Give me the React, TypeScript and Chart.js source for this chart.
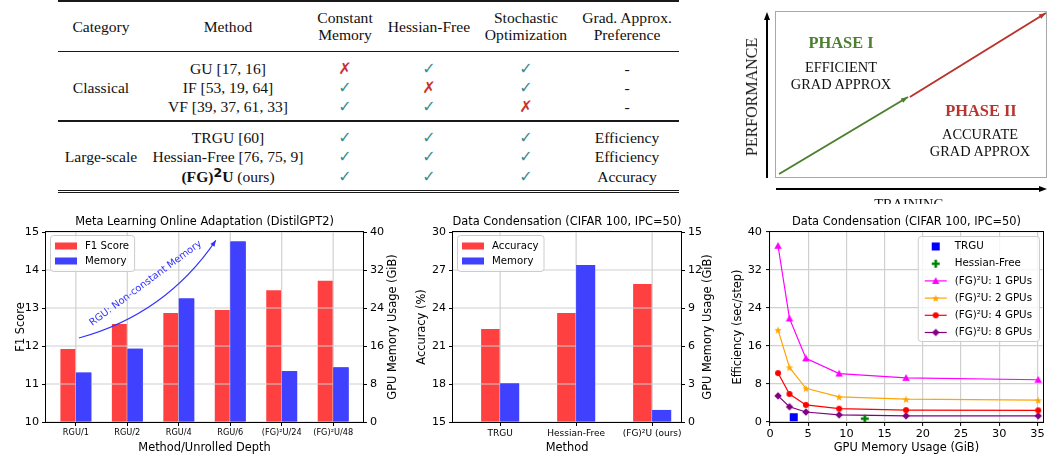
import React, { useEffect, useRef } from "react";
import { Chart, registerables } from "chart.js";
Chart.register(...registerables);

const SANS = "'DejaVu Sans', 'Liberation Sans', sans-serif";
const SERIF = "'Liberation Serif', 'DejaVu Serif', serif";
const RED = "rgb(255,64,64)";
const BLUE = "rgb(64,64,255)";
const GRID = "#d0d0d0";

// ---------------- Chart 1: Meta learning ----------------
const metaCategories = ["RGU/1", "RGU/2", "RGU/4", "RGU/6", "(FG)²U/24", "(FG)²U/48"];
const metaF1 = [11.92, 12.58, 12.87, 12.95, 13.47, 13.72];
const metaMemory = [10.4, 15.4, 26.0, 38.0, 10.7, 11.5];
const metaF1Ticks = [10, 11, 12, 13, 14, 15];
const metaMemTicks = [0, 8, 16, 24, 32, 40];

// ---------------- Chart 2: Data condensation bars ----------------
const dcCategories = ["TRGU", "Hessian-Free", "(FG)²U (ours)"];
const dcAccuracy = [22.34, 23.6, 25.9];
const dcMemory = [3.05, 12.4, 0.95];
const dcAccTicks = [15, 18, 21, 24, 27, 30];
const dcMemTicks = [0, 3, 6, 9, 12, 15];

// ---------------- Chart 3: Efficiency vs memory ----------------
const effMemory = [1.05, 2.55, 4.7, 9.05, 17.8, 35.1];
const eff1GPU = [37.1, 21.8, 13.4, 10.2, 9.3, 8.9];
const eff2GPU = [19.4, 11.5, 7.1, 5.3, 4.8, 4.6];
const eff4GPU = [10.3, 5.9, 3.6, 2.8, 2.5, 2.45];
const eff8GPU = [5.5, 3.2, 2.1, 1.5, 1.3, 1.3];
const trguMemory = [3.1];
const trguEff = [1.0];
const hfMemory = [12.4];
const hfEff = [0.7];
const effXTicks = [0, 5, 10, 15, 20, 25, 30, 35];
const effYTicks = [0, 8, 16, 24, 32, 40];

// ---------------- Phase diagram ----------------
const phaseGreenX = [0.015, 0.489];
const phaseGreenY = [0.024, 0.485];
const phaseRedX = [0.496, 0.996];
const phaseRedY = [0.485, 0.988];

// ---------------- Table ----------------
const tableColX = [101, 228, 345, 429, 526, 627];
const tableHeaders = [["Category"], ["Method"], ["Constant", "Memory"], ["Hessian-Free"], ["Stochastic", "Optimization"], ["Grad. Approx.", "Preference"]];
const classicalMethods = ["GU [17, 16]", "IF [53, 19, 64]", "VF [39, 37, 61, 33]"];
const classicalMarks = [[false, true, true], [true, false, true], [true, true, false]];
const classicalPref = ["-", "-", "-"];
const largeMethods = ["TRGU [60]", "Hessian-Free [76, 75, 9]", "FG2U"];
const largeMarks = [[true, true, true], [true, true, true], [true, true, true]];
const largePref = ["Efficiency", "Efficiency", "Accuracy"];
const classicalRowY = [69, 88, 107];
const largeRowY = [138, 157, 177];

// ---------------- helpers ----------------
function drawText(ctx: CanvasRenderingContext2D, s: string, x: number, y: number, f: string, color = "#000", rot = 0, align: CanvasTextAlign = "center") {
  ctx.save();
  ctx.translate(x, y);
  ctx.rotate(rot);
  ctx.font = f;
  ctx.fillStyle = color;
  ctx.textAlign = align;
  ctx.textBaseline = "middle";
  ctx.fillText(s, 0, 0);
  ctx.restore();
}

function roundRectPath(ctx: CanvasRenderingContext2D, x: number, y: number, w: number, h: number, r: number) {
  ctx.beginPath();
  ctx.moveTo(x + r, y);
  ctx.lineTo(x + w - r, y);
  ctx.quadraticCurveTo(x + w, y, x + w, y + r);
  ctx.lineTo(x + w, y + h - r);
  ctx.quadraticCurveTo(x + w, y + h, x + w - r, y + h);
  ctx.lineTo(x + r, y + h);
  ctx.quadraticCurveTo(x, y + h, x, y + h - r);
  ctx.lineTo(x, y + r);
  ctx.quadraticCurveTo(x, y, x + r, y);
  ctx.closePath();
}

function legendBox(ctx: CanvasRenderingContext2D, x: number, y: number, w: number, h: number) {
  ctx.save();
  roundRectPath(ctx, x + 0.5, y + 0.5, w, h, 3);
  ctx.fillStyle = "rgba(255,255,255,0.8)";
  ctx.fill();
  ctx.strokeStyle = "#cccccc";
  ctx.lineWidth = 1;
  ctx.stroke();
  ctx.restore();
}

function arrowHead(ctx: CanvasRenderingContext2D, x: number, y: number, ang: number, len: number, wid: number, color: string) {
  ctx.save();
  ctx.translate(x, y);
  ctx.rotate(ang);
  ctx.beginPath();
  ctx.moveTo(0, 0);
  ctx.lineTo(-len, wid / 2);
  ctx.lineTo(-len, -wid / 2);
  ctx.closePath();
  ctx.fillStyle = color;
  ctx.fill();
  ctx.restore();
}

function makeMarker(shape: string, color: string, size: number): HTMLCanvasElement {
  const c = document.createElement("canvas");
  const S = Math.ceil(size) + 4;
  c.width = S;
  c.height = S;
  const ctx = c.getContext("2d")!;
  const cx = S / 2, cy = S / 2, r = size / 2;
  ctx.fillStyle = color;
  ctx.beginPath();
  if (shape === "square") {
    ctx.rect(cx - r, cy - r, size, size);
  } else if (shape === "circle") {
    ctx.arc(cx, cy, r, 0, Math.PI * 2);
  } else if (shape === "triangle") {
    ctx.moveTo(cx, cy - r);
    ctx.lineTo(cx + r, cy + r * 0.8);
    ctx.lineTo(cx - r, cy + r * 0.8);
    ctx.closePath();
  } else if (shape === "diamond") {
    ctx.moveTo(cx, cy - r);
    ctx.lineTo(cx + r, cy);
    ctx.lineTo(cx, cy + r);
    ctx.lineTo(cx - r, cy);
    ctx.closePath();
  } else if (shape === "star") {
    for (let i = 0; i < 10; i++) {
      const rr = i % 2 === 0 ? r : r * 0.42;
      const a = -Math.PI / 2 + (i * Math.PI) / 5;
      const px = cx + rr * Math.cos(a), py = cy + 0.5 + rr * Math.sin(a);
      if (i === 0) ctx.moveTo(px, py); else ctx.lineTo(px, py);
    }
    ctx.closePath();
  } else if (shape === "plus") {
    const t = size / 3;
    ctx.rect(cx - r, cy - t / 2, size, t);
    ctx.rect(cx - t / 2, cy - r, t, size);
  }
  ctx.fill();
  return c;
}

const framePlugin = {
  id: "frame",
  afterDraw(chart: any) {
    const { ctx, chartArea: a } = chart;
    ctx.save();
    ctx.strokeStyle = "#000";
    ctx.lineWidth = 1;
    const l = Math.round(a.left) - 0.5, t = Math.round(a.top) - 0.5;
    const r = Math.round(a.right) + 0.5, b = Math.round(a.bottom) + 0.5;
    ctx.strokeRect(l, t, r - l, b - t);
    ctx.restore();
  },
};

function titlesPlugin(c: { title: string; xTitle: string; yTitle: string; y1Title?: string; yOff: number; y1Off?: number }) {
  return {
    id: "titles",
    afterDraw(chart: any) {
      const { ctx, chartArea: a } = chart;
      const f = `11.4px ${SANS}`;
      const cx = (a.left + a.right) / 2, cy = (a.top + a.bottom) / 2;
      drawText(ctx, c.title, cx, a.top - 10, f);
      drawText(ctx, c.xTitle, cx, a.bottom + 26, f);
      drawText(ctx, c.yTitle, a.left - c.yOff, cy, f, "#000", -Math.PI / 2);
      if (c.y1Title) drawText(ctx, c.y1Title, a.right + (c.y1Off || 0), cy, f, "#000", -Math.PI / 2);
    },
  };
}

function barLegendPlugin(items: { label: string; color: string }[]) {
  return {
    id: "barLegend",
    afterDraw(chart: any) {
      const { ctx, chartArea: a } = chart;
      const f = `10.2px ${SANS}`;
      ctx.save();
      ctx.font = f;
      const tw = Math.max(...items.map((it) => ctx.measureText(it.label).width));
      ctx.restore();
      const x = Math.round(a.left) + 4, y = Math.round(a.top) + 3;
      const w = 35 + tw + 5, h = 36;
      legendBox(ctx, x, y, w, h);
      items.forEach((it, i) => {
        const ry = y + 11 + i * 15;
        ctx.fillStyle = it.color;
        ctx.fillRect(x + 5, ry - 3.5, 22, 7);
        drawText(ctx, it.label, x + 35, ry, f, "#000", 0, "left");
      });
    },
  };
}

function barGridPlugin(frontIndex: number) {
  return {
    id: "barGrid",
    afterDatasetsDraw(chart: any) {
      const { ctx, chartArea: a, scales } = chart;
      ctx.save();
      ctx.strokeStyle = GRID;
      ctx.lineWidth = 1.2;
      scales.x.ticks.forEach((t: any) => {
        const px = scales.x.getPixelForValue(t.value);
        ctx.beginPath();
        ctx.moveTo(px, a.top);
        ctx.lineTo(px, a.bottom);
        ctx.stroke();
      });
      scales.y.ticks.forEach((t: any) => {
        const py = Math.round(scales.y.getPixelForValue(t.value));
        ctx.beginPath();
        ctx.moveTo(a.left, py);
        ctx.lineTo(a.right, py);
        ctx.stroke();
      });
      ctx.restore();
      chart.getDatasetMeta(frontIndex).data.forEach((el: any) => el.draw(ctx));
    },
  };
}

const metaArrowStart = [0.06, 12.21];
const metaArrowCtrl = [1.75, 12.84];
const metaArrowEnd = [2.72, 14.78];
const metaArrowLabel = "RGU: Non-constant Memory";
const metaArrowLabelAt = [1.356, 13.65];

const metaAnnotationPlugin = {
  id: "metaAnnot",
  afterDraw(chart: any) {
    const { ctx, scales } = chart;
    const X = (v: number) => scales.x.getPixelForValue(v);
    const Y = (v: number) => scales.y.getPixelForValue(v);
    const sx = X(metaArrowStart[0]), sy = Y(metaArrowStart[1]);
    const cx = X(metaArrowCtrl[0]), cy = Y(metaArrowCtrl[1]);
    const ex = X(metaArrowEnd[0]), ey = Y(metaArrowEnd[1]);
    const color = "rgb(50,50,255)";
    ctx.save();
    ctx.strokeStyle = color;
    ctx.lineWidth = 1.1;
    ctx.beginPath();
    ctx.moveTo(sx, sy);
    ctx.quadraticCurveTo(cx, cy, ex, ey);
    ctx.stroke();
    ctx.restore();
    arrowHead(ctx, ex, ey, Math.atan2(ey - cy, ex - cx), 6, 5, color);
    drawText(ctx, metaArrowLabel, X(metaArrowLabelAt[0]), Y(metaArrowLabelAt[1]), `9.8px ${SANS}`, color, (-36.5 * Math.PI) / 180);
  },
};

function barScales(o: {
  cats: string[]; xMin: number; xMax: number; yMin: number; yMax: number; y1Min: number; y1Max: number;
  yTicks: number[]; y1Ticks: number[]; yW: number; y1W: number; xTickSize: number; yTickSize: number;
}) {
  const tickGrid = { drawOnChartArea: false, offset: false, tickLength: 4, tickColor: "#000", tickWidth: 1 };
  return {
    x: {
      type: "linear", min: o.xMin, max: o.xMax, offset: false,
      afterBuildTicks: (s: any) => { s.ticks = o.cats.map((_, i) => ({ value: i })); },
      afterFit: (s: any) => { s.height = 37; },
      grid: tickGrid, border: { display: false },
      ticks: { font: { family: SANS, size: o.xTickSize }, color: "#000", padding: 2, maxRotation: 0, autoSkip: false, callback: (_v: any, i: number) => o.cats[i] },
    },
    y: {
      type: "linear", position: "left", min: o.yMin, max: o.yMax,
      afterBuildTicks: (s: any) => { s.ticks = o.yTicks.map((v) => ({ value: v })); },
      afterFit: (s: any) => { s.width = o.yW; },
      grid: tickGrid, border: { display: false },
      ticks: { font: { family: SANS, size: o.yTickSize }, color: "#000", padding: 3, callback: (v: any) => String(v) },
    },
    y1: {
      type: "linear", position: "right", min: o.y1Min, max: o.y1Max,
      afterBuildTicks: (s: any) => { s.ticks = o.y1Ticks.map((v) => ({ value: v })); },
      afterFit: (s: any) => { s.width = o.y1W; },
      grid: tickGrid, border: { display: false },
      ticks: { font: { family: SANS, size: o.yTickSize }, color: "#000", padding: 3, callback: (v: any) => String(v) },
    },
  };
}

const commonOpts = {
  responsive: false,
  maintainAspectRatio: false,
  animation: false,
  events: [],
};

function metaConfig(): any {
  return {
    type: "bar",
    data: {
      datasets: [
        { label: "F1 Score", data: metaF1.map((y, i) => ({ x: i, y })), backgroundColor: RED, yAxisID: "y", categoryPercentage: 0.6, barPercentage: 1, borderWidth: 0 },
        { label: "Memory", data: metaMemory.map((y, i) => ({ x: i, y })), backgroundColor: BLUE, yAxisID: "y1", categoryPercentage: 0.6, barPercentage: 1, borderWidth: 0 },
      ],
    },
    options: {
      ...commonOpts,
      layout: { padding: { top: 27, left: 0, right: 0, bottom: 0 } },
      plugins: { legend: { display: false }, tooltip: { enabled: false }, title: { display: false } },
      scales: barScales({ cats: metaCategories, xMin: -0.58, xMax: 5.58, yMin: 10, yMax: 15, y1Min: 0, y1Max: 40, yTicks: metaF1Ticks, y1Ticks: metaMemTicks, yW: 46, y1W: 37, xTickSize: 8.2, yTickSize: 11.2 }),
    },
    plugins: [
      barGridPlugin(1),
      metaAnnotationPlugin,
      framePlugin,
      titlesPlugin({ title: "Meta Learning Online Adaptation (DistilGPT2)", xTitle: "Method/Unrolled Depth", yTitle: "F1 Score", y1Title: "GPU Memory Usage (GiB)", yOff: 25, y1Off: 30 }),
      barLegendPlugin([{ label: "F1 Score", color: RED }, { label: "Memory", color: BLUE }]),
    ],
  };
}

function dcConfig(): any {
  return {
    type: "bar",
    data: {
      datasets: [
        { label: "Accuracy", data: dcAccuracy.map((y, i) => ({ x: i, y })), backgroundColor: RED, yAxisID: "y", categoryPercentage: 0.5, barPercentage: 1, borderWidth: 0 },
        { label: "Memory", data: dcMemory.map((y, i) => ({ x: i, y })), backgroundColor: BLUE, yAxisID: "y1", categoryPercentage: 0.5, barPercentage: 1, borderWidth: 0 },
      ],
    },
    options: {
      ...commonOpts,
      layout: { padding: { top: 27, left: 0, right: 0, bottom: 0 } },
      plugins: { legend: { display: false }, tooltip: { enabled: false }, title: { display: false } },
      scales: barScales({ cats: dcCategories, xMin: -0.62, xMax: 2.38, yMin: 15, yMax: 30, y1Min: 0, y1Max: 15, yTicks: dcAccTicks, y1Ticks: dcMemTicks, yW: 53, y1W: 39, xTickSize: 9, yTickSize: 11 }),
    },
    plugins: [
      barGridPlugin(1),
      framePlugin,
      titlesPlugin({ title: "Data Condensation (CIFAR 100, IPC=50)", xTitle: "Method", yTitle: "Accuracy (%)", y1Title: "GPU Memory Usage (GiB)", yOff: 31, y1Off: 27 }),
      barLegendPlugin([{ label: "Accuracy", color: RED }, { label: "Memory", color: BLUE }]),
    ],
  };
}

function effConfig(): any {
  const mTRGU = makeMarker("square", "#0000ff", 8);
  const mHF = makeMarker("plus", "#008000", 8);
  const m1 = makeMarker("triangle", "#ff00ff", 7.5);
  const m2 = makeMarker("star", "#ffa500", 8);
  const m4 = makeMarker("circle", "#ff0000", 6);
  const m8 = makeMarker("diamond", "#800080", 7.5);
  const series = [
    { label: "(FG)²U: 1 GPUs", ys: eff1GPU, color: "#ff00ff", marker: m1 },
    { label: "(FG)²U: 2 GPUs", ys: eff2GPU, color: "#ffa500", marker: m2 },
    { label: "(FG)²U: 4 GPUs", ys: eff4GPU, color: "#ff0000", marker: m4 },
    { label: "(FG)²U: 8 GPUs", ys: eff8GPU, color: "#800080", marker: m8 },
  ];
  const legendItems = [
    { label: "TRGU", marker: mTRGU, line: "" },
    { label: "Hessian-Free", marker: mHF, line: "" },
    ...series.map((s) => ({ label: s.label, marker: s.marker, line: s.color })),
  ];
  const legendPlugin = {
    id: "effLegend",
    afterDraw(chart: any) {
      const { ctx, chartArea: a } = chart;
      const f = `10.3px ${SANS}`;
      ctx.save();
      ctx.font = f;
      const tw = Math.max(...legendItems.map((it) => ctx.measureText(it.label).width));
      ctx.restore();
      const w = 37 + tw + 7, h = 105;
      const x = Math.round(a.right) - 4 - w, y = Math.round(a.top) + 4;
      legendBox(ctx, x, y, w, h);
      legendItems.forEach((it, i) => {
        const ry = y + 10.5 + i * 17.2;
        if (it.line) {
          ctx.save();
          ctx.strokeStyle = it.line;
          ctx.lineWidth = 1.2;
          ctx.beginPath();
          ctx.moveTo(x + 7, ry);
          ctx.lineTo(x + 29, ry);
          ctx.stroke();
          ctx.restore();
        }
        ctx.drawImage(it.marker, x + 18 - it.marker.width / 2, ry - it.marker.height / 2);
        drawText(ctx, it.label, x + 37, ry, f, "#000", 0, "left");
      });
    },
  };
  const gridOpts = { color: GRID, lineWidth: 1.2, tickLength: 4, tickColor: "#000", tickWidth: 1 };
  return {
    type: "scatter",
    data: {
      datasets: [
        { label: "TRGU", data: trguMemory.map((x, i) => ({ x, y: trguEff[i] })), pointStyle: mTRGU, pointRadius: 4, showLine: false },
        { label: "Hessian-Free", data: hfMemory.map((x, i) => ({ x, y: hfEff[i] })), pointStyle: mHF, pointRadius: 4, showLine: false },
        ...series.map((s) => ({
          label: s.label,
          data: effMemory.map((x, i) => ({ x, y: s.ys[i] })),
          showLine: true, borderColor: s.color, borderWidth: 1.2, tension: 0,
          pointStyle: s.marker, pointRadius: 4,
        })),
      ],
    },
    options: {
      ...commonOpts,
      layout: { padding: { top: 27, left: 0, right: 5, bottom: 0 } },
      plugins: { legend: { display: false }, tooltip: { enabled: false }, title: { display: false } },
      scales: {
        x: {
          type: "linear", min: 0, max: 35.7,
          afterBuildTicks: (s: any) => { s.ticks = effXTicks.map((v) => ({ value: v })); },
          afterFit: (s: any) => { s.height = 37; },
          grid: gridOpts, border: { display: false },
          ticks: { font: { family: SANS, size: 11.3 }, color: "#000", padding: 1, maxRotation: 0, autoSkip: false, callback: (v: any) => String(v) },
        },
        y: {
          type: "linear", min: 0, max: 40,
          afterBuildTicks: (s: any) => { s.ticks = effYTicks.map((v) => ({ value: v })); },
          afterFit: (s: any) => { s.width = 50; },
          grid: gridOpts, border: { display: false },
          ticks: { font: { family: SANS, size: 11.3 }, color: "#000", padding: 4, callback: (v: any) => String(v) },
        },
      },
    },
    plugins: [
      framePlugin,
      titlesPlugin({ title: "Data Condensation (CIFAR 100, IPC=50)", xTitle: "GPU Memory Usage (GiB)", yTitle: "Efficiency (sec/step)", yOff: 32 }),
      legendPlugin,
    ],
  };
}

function phaseConfig(): any {
  const GREEN = "#4d7f30";
  const DRED = "#b9342e";
  const arrowsPlugin = {
    id: "phaseArrows",
    afterDraw(chart: any) {
      const { ctx, chartArea: a } = chart;
      ctx.save();
      ctx.strokeStyle = "#a8a8a8";
      ctx.lineWidth = 1;
      ctx.strokeRect(Math.round(a.left) + 0.5, Math.round(a.top) + 0.5, Math.round(a.right - a.left) - 1, Math.round(a.bottom - a.top) - 1);
      ctx.strokeStyle = "#000";
      ctx.lineWidth = 2;
      const vx = a.left - 8;
      ctx.beginPath();
      ctx.moveTo(vx, a.bottom);
      ctx.lineTo(vx, a.top + 6);
      ctx.stroke();
      const hy = a.bottom + 11;
      ctx.beginPath();
      ctx.moveTo(a.left + 1, hy);
      ctx.lineTo(a.right - 6, hy);
      ctx.stroke();
      ctx.restore();
      arrowHead(ctx, vx, a.top + 1, -Math.PI / 2, 8, 6, "#000");
      arrowHead(ctx, a.right, hy, 0, 8, 6, "#000");
      chart.data.datasets.forEach((ds: any, i: number) => {
        const pts = chart.getDatasetMeta(i).data;
        const p0 = pts[pts.length - 2], p1 = pts[pts.length - 1];
        arrowHead(ctx, p1.x, p1.y, Math.atan2(p1.y - p0.y, p1.x - p0.x), 7, 5, ds.borderColor);
      });
    },
  };
  return {
    type: "scatter",
    data: {
      datasets: [
        { data: phaseGreenX.map((x, i) => ({ x, y: phaseGreenY[i] })), showLine: true, borderColor: GREEN, borderWidth: 2, pointRadius: 0 },
        { data: phaseRedX.map((x, i) => ({ x, y: phaseRedY[i] })), showLine: true, borderColor: DRED, borderWidth: 2, pointRadius: 0 },
      ],
    },
    options: {
      ...commonOpts,
      layout: { padding: { left: 35, top: 11, right: 1, bottom: 26 } },
      plugins: { legend: { display: false }, tooltip: { enabled: false } },
      scales: {
        x: { type: "linear", min: 0, max: 1, display: false },
        y: { type: "linear", min: 0, max: 1, display: false },
      },
    },
    plugins: [arrowsPlugin],
  };
}

function ChartCanvas(props: { left: number; top: number; width: number; height: number; make: () => any }) {
  const ref = useRef<HTMLCanvasElement>(null);
  useEffect(() => {
    const chart = new Chart(ref.current as HTMLCanvasElement, props.make());
    return () => chart.destroy();
  }, []);
  return (
    <canvas
      ref={ref}
      width={props.width}
      height={props.height}
      style={{ position: "absolute", left: props.left, top: props.top, width: props.width, height: props.height }}
    />
  );
}

function Cell(props: { x: number; y: number; children: any; style?: any }) {
  return (
    <div
      style={{
        position: "absolute",
        left: props.x,
        top: props.y,
        transform: "translate(-50%, -50%)",
        whiteSpace: "nowrap",
        lineHeight: 1,
        ...(props.style || {}),
      }}
    >
      {props.children}
    </div>
  );
}

function Mark({ ok }: { ok: boolean }) {
  return ok ? (
    <span style={{ color: "#3d8c8c", fontFamily: SANS, fontSize: 16 }}>✓</span>
  ) : (
    <span style={{ color: "#c83232", fontFamily: SANS, fontSize: 16 }}>✗</span>
  );
}

function MethodText({ m }: { m: string }) {
  if (m === "FG2U")
    return (
      <span>
        <b>
          (FG)<span style={{ position: "relative", top: "-0.42em", fontSize: "0.8em", fontFamily: SANS }}>2</span>U
        </b>{" "}
        (ours)
      </span>
    );
  return <span>{m}</span>;
}

function Table() {
  const rule = (y: number, h: number) => (
    <div style={{ position: "absolute", left: 58, width: 621, top: y, height: h, background: "#1a1a1a" }} />
  );
  return (
    <div style={{ position: "absolute", left: 0, top: 0, width: 700, height: 200, fontFamily: SERIF, fontSize: 15.6, color: "#111" }}>
      {rule(0, 2)}
      {rule(50.5, 1.2)}
      {rule(120, 1.6)}
      {rule(189.5, 1.2)}
      {rule(192.3, 1.2)}
      {tableHeaders.map((lines, c) =>
        lines.length === 1 ? (
          <Cell key={"h" + c} x={tableColX[c]} y={26.5}>{lines[0]}</Cell>
        ) : (
          lines.map((l, k) => (
            <Cell key={"h" + c + k} x={tableColX[c]} y={17.5 + k * 17.5}>{l}</Cell>
          ))
        )
      )}
      <Cell x={tableColX[0]} y={88}>Classical</Cell>
      <Cell x={tableColX[0]} y={157}>Large-scale</Cell>
      {classicalMethods.map((m, r) => (
        <React.Fragment key={"c" + r}>
          <Cell x={tableColX[1]} y={classicalRowY[r]}><MethodText m={m} /></Cell>
          {classicalMarks[r].map((ok, k) => (
            <Cell key={k} x={tableColX[2 + k]} y={classicalRowY[r]}><Mark ok={ok} /></Cell>
          ))}
          <Cell x={tableColX[5]} y={classicalRowY[r]}>{classicalPref[r]}</Cell>
        </React.Fragment>
      ))}
      {largeMethods.map((m, r) => (
        <React.Fragment key={"l" + r}>
          <Cell x={tableColX[1]} y={largeRowY[r]}><MethodText m={m} /></Cell>
          {largeMarks[r].map((ok, k) => (
            <Cell key={k} x={tableColX[2 + k]} y={largeRowY[r]}><Mark ok={ok} /></Cell>
          ))}
          <Cell x={tableColX[5]} y={largeRowY[r]}>{largePref[r]}</Cell>
        </React.Fragment>
      ))}
    </div>
  );
}

function Phase() {
  const ox = 700;
  const t = { fontFamily: SERIF, fontSize: 14.4, color: "#111" };
  const ph = { fontFamily: SERIF, fontSize: 16.4, fontWeight: 700 };
  return (
    <div style={{ position: "absolute", left: ox, top: 0, width: 348, height: 204, overflow: "hidden" }}>
      <ChartCanvas left={40} top={0} width={308} height={204} make={phaseConfig} />
      <Cell x={752 - ox} y={97} style={{ ...t, fontSize: 16, transform: "translate(-50%, -50%) rotate(-90deg)" }}>PERFORMANCE</Cell>
      <Cell x={841 - ox} y={43} style={{ ...ph, color: "#4d7f30" }}>PHASE I</Cell>
      <Cell x={841 - ox} y={67} style={t}>EFFICIENT</Cell>
      <Cell x={841 - ox} y={84} style={t}>GRAD APPROX</Cell>
      <Cell x={981 - ox} y={111} style={{ ...ph, color: "#b9342e" }}>PHASE II</Cell>
      <Cell x={980 - ox} y={134} style={t}>ACCURATE</Cell>
      <Cell x={980 - ox} y={151} style={t}>GRAD APPROX</Cell>
      <Cell x={909 - ox} y={204} style={t}>TRAINING</Cell>
    </div>
  );
}

export default function App() {
  return (
    <div style={{ position: "absolute", left: 0, top: 0, width: 1048, height: 459, background: "#fff", overflow: "hidden" }}>
      <Table />
      <Phase />
      <ChartCanvas left={0} top={205} width={400} height={254} make={metaConfig} />
      <ChartCanvas left={400} top={205} width={320} height={254} make={dcConfig} />
      <ChartCanvas left={720} top={205} width={328} height={254} make={effConfig} />
    </div>
  );
}
